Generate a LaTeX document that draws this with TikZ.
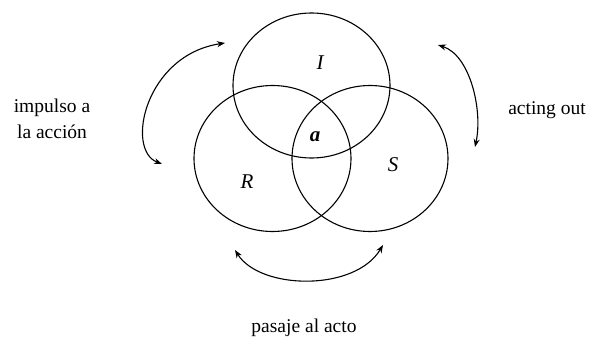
\documentclass[tikz,border=0pt]{standalone}
\usepackage{fontspec}
\setmainfont{Liberation Serif}
\usetikzlibrary{arrows.meta, shapes.geometric}

\begin{document}
\begin{tikzpicture}[
  x=1pt, y=-1pt,
  ring/.style={ellipse, draw=black, line width=1.1pt, inner sep=0pt, minimum width=157pt, minimum height=146pt},
  reg/.style={font=\fontsize{21}{24}\selectfont\itshape},
  lbl/.style={font=\fontsize{19.5}{26}\selectfont, align=center},
  move/.style={{Stealth[length=8pt,width=6pt]}-{Stealth[length=8pt,width=6pt]}, line width=1.1pt}
]
\useasboundingbox[fill=white] (0,0) rectangle (590,340);

% the three rings
\node[ring, minimum height=145pt] (I) at (311.5,85.5) {};
\node[ring] (R) at (272.5,158.5) {};
\node[ring, minimum width=156pt] (S) at (370,158.5) {};

\node[reg] (lI) at (320,63) {I};
\node[reg] (lR) at (247,182) {R};
\node[reg] (lS) at (393,165) {S};
\node[reg, font=\fontsize{21}{24}\selectfont\bfseries\itshape] (la) at (315,137) {a};

% labels
\node[lbl] (imp) at (52,119) {impulso a\\la acción};
\node[lbl] (act) at (547,110) {acting out};
\node[lbl] (pas) at (304,328) {pasaje al acto};

% arrow ends
\coordinate (impA) at (162,164);
\coordinate (impB) at (225,43);
\coordinate (actA) at (438,45);
\coordinate (actB) at (475,147);
\coordinate (pasA) at (235,250);
\coordinate (pasB) at (383,245);

\draw[move] (impA) .. controls (125,150) and (145,55) .. (impB);
\draw[move] (actA) .. controls (470,55) and (483,110) .. (actB);
\draw[move] (pasA) .. controls (260,290) and (355,292) .. (pasB);
\end{tikzpicture}
\end{document}
